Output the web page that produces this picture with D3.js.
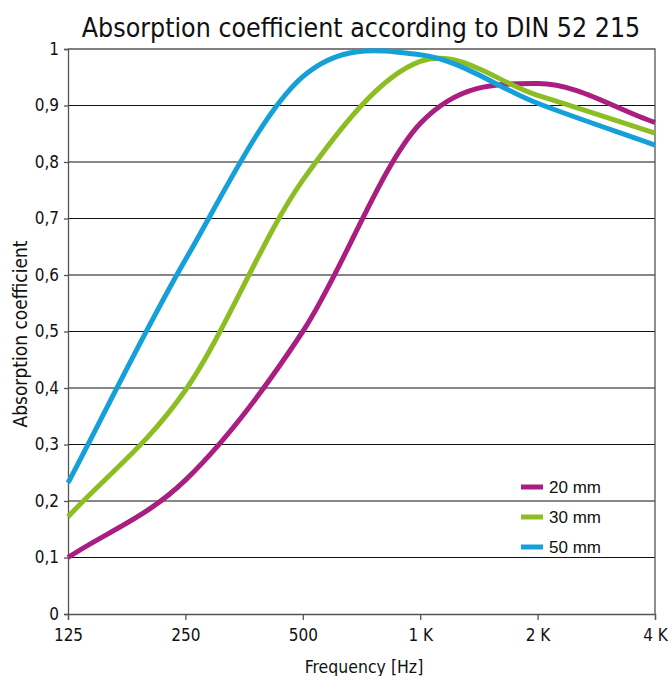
<!DOCTYPE html>
<html>
<head>
<meta charset="utf-8">
<script src="https://cdn.jsdelivr.net/npm/d3@7"></script>
<style>
body { margin: 0; background: #fff; }
text { font-family: "DejaVu Sans Condensed", "Liberation Sans Narrow", sans-serif; fill: #111; }
</style>
</head>
<body>
<script>
var w = 670;
var h = 676;

// octave band values
var freqs = [125, 250, 500, 1000, 2000, 4000];
var mm20 = [0.10, 0.237, 0.50, 0.868, 0.939, 0.87];
var mm30 = [0.172, 0.396, 0.768, 0.978, 0.918, 0.851];
var mm50 = [0.232, 0.627, 0.951, 0.99, 0.904, 0.83];
var seriesNames = ["20 mm", "30 mm", "50 mm"];
var colors = ["#a91e80", "#8cbe23", "#16a0d9"];
var xTickLabels = ["125", "250", "500", "1 K", "2 K", "4 K"];
var yTicks = [0, 0.1, 0.2, 0.3, 0.4, 0.5, 0.6, 0.7, 0.8, 0.9, 1];

var padLeft = 68, padRight = 655, padTop = 49, padBottom = 614;

var svg = d3.select("body").append("svg")
  .attr("width", w)
  .attr("height", h);

var x = d3.scaleLog().base(2).domain([125, 4000]).range([padLeft, padRight]);
var y = d3.scaleLinear().domain([0, 1]).range([padBottom, padTop]);

// spreadsheet style smoothing: catmull-rom inside, straight tangent at the ends
function smoothCurve(context) {
  var pts;
  return {
    areaStart: function() {},
    areaEnd: function() {},
    lineStart: function() { pts = []; },
    point: function(px, py) { pts.push([+px, +py]); },
    lineEnd: function() {
      var n = pts.length;
      if (!n) return;
      context.moveTo(pts[0][0], pts[0][1]);
      var tan = pts.map(function(p, i) {
        if (i === 0) return [pts[1][0] - p[0], pts[1][1] - p[1]];
        if (i === n - 1) return [p[0] - pts[i - 1][0], p[1] - pts[i - 1][1]];
        return [(pts[i + 1][0] - pts[i - 1][0]) / 2, (pts[i + 1][1] - pts[i - 1][1]) / 2];
      });
      for (var i = 0; i < n - 1; i++) {
        context.bezierCurveTo(
          pts[i][0] + tan[i][0] / 3, pts[i][1] + tan[i][1] / 3,
          pts[i + 1][0] - tan[i + 1][0] / 3, pts[i + 1][1] - tan[i + 1][1] / 3,
          pts[i + 1][0], pts[i + 1][1]);
      }
    }
  };
}

// gridlines
svg.append("g")
  .selectAll("line")
  .data(yTicks.slice(1, -1))
  .enter()
  .append("line")
  .attr("x1", padLeft)
  .attr("x2", padRight)
  .attr("y1", function(d) { return y(d); })
  .attr("y2", function(d) { return y(d); })
  .attr("stroke", "#111")
  .attr("stroke-width", 1.2);

// frame top + right
svg.append("path")
  .attr("d", "M" + padLeft + "," + y(1) + "H" + padRight + "V" + padBottom)
  .attr("fill", "none")
  .attr("stroke", "#555")
  .attr("stroke-width", 1.3);

var yAxis = d3.axisLeft(y)
  .tickValues(yTicks)
  .tickSize(4)
  .tickPadding(5)
  .tickFormat(function(d) { return d === 0 || d === 1 ? String(d) : d3.format(".1f")(d).replace(".", ","); });

var gy = svg.append("g")
  .attr("transform", "translate(" + padLeft + ",0)")
  .call(yAxis);

var xAxis = d3.axisBottom(x)
  .tickValues(freqs)
  .tickSize(6)
  .tickPadding(9)
  .tickFormat(function(d, i) { return xTickLabels[i]; });

var gx = svg.append("g")
  .attr("transform", "translate(0," + padBottom + ")")
  .call(xAxis);

[gx, gy].forEach(function(g) {
  g.select(".domain").attr("stroke", "#555").attr("stroke-width", 1.3);
  g.selectAll(".tick line").attr("stroke", "#555").attr("stroke-width", 1.3);
  g.selectAll("text").style("font-size", "17px").attr("fill", "#111");
});

var line = d3.line()
  .x(function(d) { return x(d[0]); })
  .y(function(d) { return y(d[1]); })
  .curve(smoothCurve);

var allSeries = [mm20, mm30, mm50];

// 20 mm first, 50 mm ends up on top
svg.append("g")
  .selectAll("path")
  .data(allSeries)
  .enter()
  .append("path")
  .attr("d", function(vals) {
    return line(freqs.map(function(f, i) { return [f, vals[i]]; }));
  })
  .attr("fill", "none")
  .attr("stroke", function(d, i) { return colors[i]; })
  .attr("stroke-width", 5);

// legend
var legend = svg.append("g")
  .selectAll("g")
  .data(seriesNames)
  .enter()
  .append("g")
  .attr("transform", function(d, i) { return "translate(521," + (487 + i * 30) + ")"; });

legend.append("line")
  .attr("x1", 0)
  .attr("x2", 22)
  .attr("stroke", function(d, i) { return colors[i]; })
  .attr("stroke-width", 5);

legend.append("text")
  .attr("x", 28)
  .attr("dy", "0.36em")
  .style("font-family", "'Liberation Sans', Arial, sans-serif")
  .style("font-size", "17px")
  .text(function(d) { return d; });

svg.append("text")
  .attr("x", 361)
  .attr("y", 37)
  .attr("text-anchor", "middle")
  .style("font-size", "26.5px")
  .text("Absorption coefficient according to DIN 52 215");

svg.append("text")
  .attr("x", 364)
  .attr("y", 673)
  .attr("text-anchor", "middle")
  .style("font-size", "17.5px")
  .text("Frequency [Hz]");

svg.append("text")
  .attr("transform", "translate(27,334) rotate(-90)")
  .attr("text-anchor", "middle")
  .style("font-size", "19px")
  .text("Absorption coefficient");
</script>
</body>
</html>
